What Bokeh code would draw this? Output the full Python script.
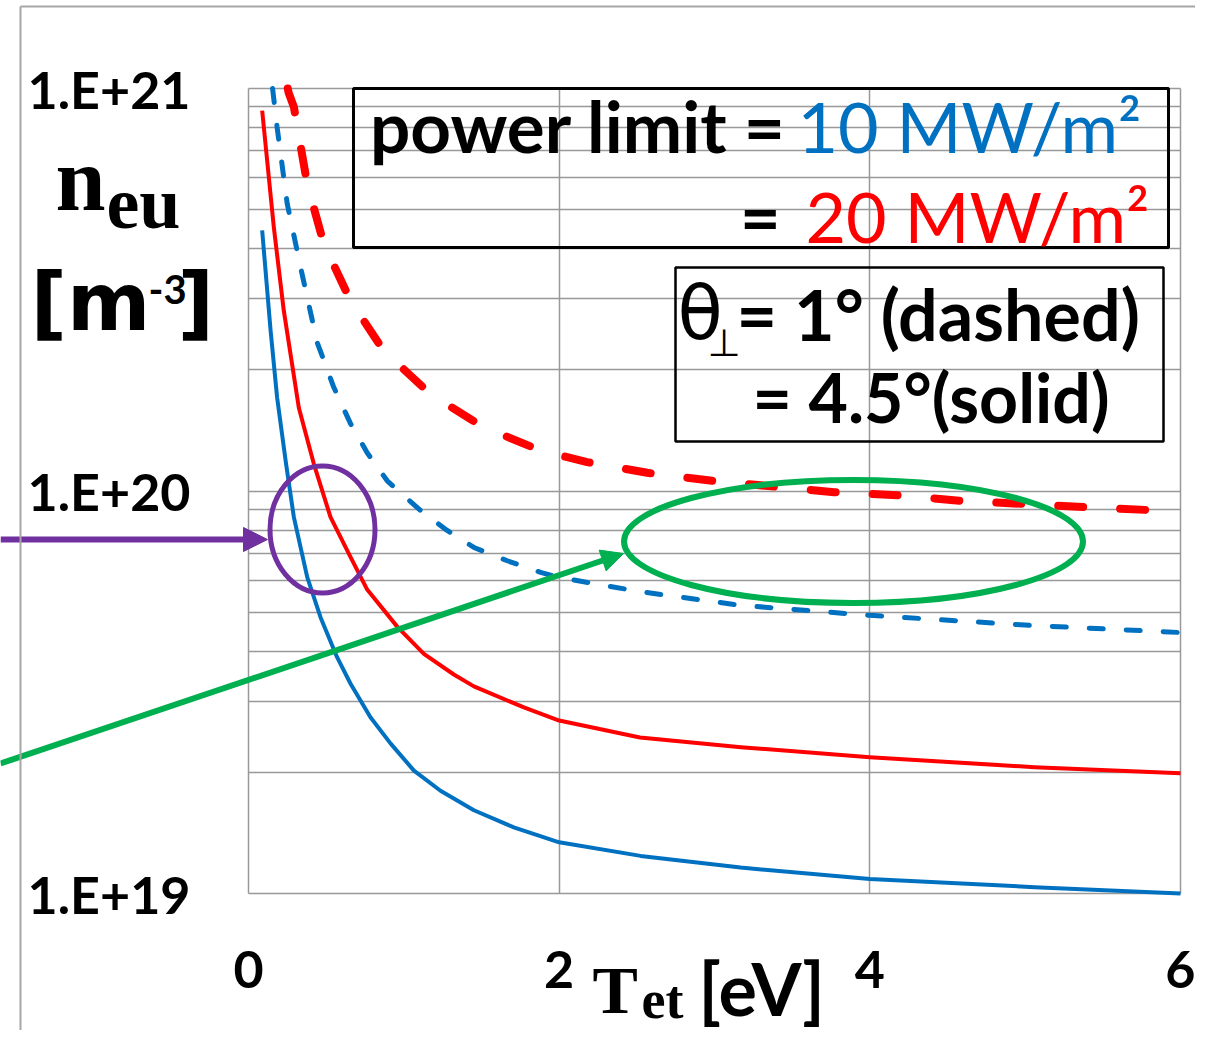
import math
from bokeh.plotting import figure
from bokeh.models import (FixedTicker, Label, BoxAnnotation, Arrow, NormalHead,
                          Range1d, CustomJSTickFormatter, Grid)
from bokeh.embed import file_html
from bokeh.resources import INLINE

# ---------------- data ----------------
# theta = 4.5 deg (solid), power limit 10 MW/m2 (blue)
T_solid_10 = [0.088, 0.142, 0.184, 0.2415, 0.292, 0.378, 0.464, 0.571, 0.657, 0.785, 0.914, 1.065,
              1.236, 1.451, 1.708, 2.0, 2.524, 3.168, 4.0, 5.06, 6.0]
n_solid_10 = [4.44e20, 2.51e20, 1.71e20, 1.17e20, 8.61e19, 6.11e19, 4.85e19, 3.86e19, 3.32e19,
              2.74e19, 2.36e19, 2.02e19, 1.80e19, 1.61e19, 1.46e19, 1.34e19, 1.24e19, 1.16e19,
              1.086e19, 1.037e19, 1.0e19]
# theta = 4.5 deg (solid), power limit 20 MW/m2 (red)
T_solid_20 = [0.088, 0.163, 0.227, 0.324, 0.42, 0.528, 0.657, 0.764, 0.96, 1.129, 1.322, 1.451,
              1.773, 2.0, 2.52, 3.17, 4.0, 5.06, 6.0]
n_solid_20 = [8.81e20, 4.52e20, 2.81e20, 1.61e20, 1.17e20, 8.61e19, 6.85e19, 5.69e19, 4.59e19,
              3.94e19, 3.50e19, 3.27e19, 2.90e19, 2.69e19, 2.44e19, 2.31e19, 2.18e19, 2.06e19,
              1.99e19]
# theta = 1 deg (dashed), power limit 10 MW/m2 (blue)
T_dash_10 = [0.147, 0.155, 0.184, 0.249, 0.335, 0.442, 0.549, 0.657, 0.764, 0.893, 1.107, 1.279,
             1.451, 1.666, 1.88, 2.0, 2.524, 3.168, 4.0, 5.06, 6.0]
n_dash_10 = [1.05e21, 1.0e21, 8.02e20, 5.18e20, 3.60e20, 2.34e20, 1.81e20, 1.47e20, 1.245e20,
             1.06e20, 8.95e19, 7.98e19, 7.24e19, 6.71e19, 6.28e19, 6.10e19, 5.62e19, 5.20e19,
             4.91e19, 4.63e19, 4.45e19]
# theta = 1 deg (dashed), power limit 20 MW/m2 (red)
T_dash_20 = [0.245, 0.258, 0.292, 0.378, 0.485, 0.657, 0.871, 1.172, 1.5, 1.88, 2.18, 2.567, 2.99,
             3.77, 4.2, 4.58, 5.38, 5.79, 6.0]
n_dash_20 = [1.035e21, 9.77e20, 9.0e20, 5.79e20, 4.11e20, 2.97e20, 2.23e20, 1.74e20, 1.45e20,
             1.26e20, 1.18e20, 1.11e20, 1.06e20, 9.93e19, 9.75e19, 9.46e19, 9.12e19, 8.97e19,
             8.91e19]

x_ticks = [0, 2, 4, 6]
y_major = [1e19, 1e20, 1e21]
y_minor = [k * 1e19 for k in range(2, 10)] + [k * 1e20 for k in range(2, 10)]
x_lim = (0, 6)
y_lim = (1e19, 1e21)

BLUE = "#0070C0"
RED = "#FF0000"
PURPLE = "#7030A0"
GREEN = "#00B050"
GRID = "#999999"

W, H = 1195, 1030          # canvas size
PX0, PX1 = 248.0, 1180.0   # pixel columns of T = 0 and T = 6
PY0, PDEC = 88.0, 402.5    # pixel row of 1e21 and pixels per decade


def X(px):
    return x_lim[0] + (px - PX0) / (PX1 - PX0) * (x_lim[1] - x_lim[0])


def Y(py):
    return 10 ** (21.0 - (py - PY0) / PDEC)


# --------------- figure: frame fills the canvas, axes at fixed locations ----------------
p = figure(frame_width=W, frame_height=H, y_axis_type="log",
           x_range=Range1d(X(0), X(W)), y_range=Range1d(Y(H), Y(0)),
           output_backend="svg", toolbar_location=None,
           min_border=0, min_border_left=0, min_border_right=0,
           min_border_top=0, min_border_bottom=0)
p.title.visible = False
p.background_fill_color = "white"
p.border_fill_color = "white"
p.outline_line_color = None

p.xaxis.ticker = FixedTicker(ticks=x_ticks)
p.yaxis.ticker = FixedTicker(ticks=y_major, minor_ticks=y_minor)
p.yaxis.formatter = CustomJSTickFormatter(code="return '1.E+' + Math.round(Math.log10(tick)).toString();")
p.xaxis.fixed_location = y_lim[0]
p.yaxis.fixed_location = x_lim[0]
p.xaxis.bounds = x_lim
p.yaxis.bounds = y_lim
for ax in (p.xaxis, p.yaxis):
    ax.axis_line_color = None
    ax.major_tick_line_color = None
    ax.minor_tick_line_color = None
    ax.major_tick_out = 0
    ax.major_tick_in = 0
    ax.minor_tick_out = 0
    ax.minor_tick_in = 0
    ax.major_label_text_font = "Lato"
    ax.major_label_text_font_style = "bold"
    ax.major_label_text_font_size = "52px"
    ax.major_label_text_color = "black"
p.yaxis.major_label_standoff = 58
p.xaxis.major_label_standoff = 57

has_cross = "cross_bounds" in Grid.properties()
for g in (p.xgrid, p.ygrid):
    g.grid_line_color = GRID if has_cross else None
    g.grid_line_width = 1.5
p.ygrid.minor_grid_line_color = GRID if has_cross else None
p.ygrid.minor_grid_line_width = 1.5
if has_cross:
    p.xgrid.cross_bounds = y_lim
    p.ygrid.cross_bounds = x_lim
else:
    ys = y_major + y_minor
    p.segment(x0=x_ticks, y0=[y_lim[0]] * len(x_ticks), x1=x_ticks, y1=[y_lim[1]] * len(x_ticks),
              line_color=GRID, line_width=1.5)
    p.segment(x0=[x_lim[0]] * len(ys), y0=ys, x1=[x_lim[1]] * len(ys), y1=ys,
              line_color=GRID, line_width=1.5)


# dashed curves start above 1e21: cut them at the top of the plot area
def cut_top(T, n):
    tt, nn = [], []
    for i in range(len(T)):
        if n[i] <= y_lim[1]:
            if i > 0 and n[i - 1] > y_lim[1] and not tt:
                l0, l1 = math.log10(n[i - 1]), math.log10(n[i])
                f = (l0 - math.log10(y_lim[1])) / (l0 - l1)
                tt.append(T[i - 1] + f * (T[i] - T[i - 1]))
                nn.append(y_lim[1])
            tt.append(T[i])
            nn.append(n[i])
    return tt, nn


p.line(T_solid_10, n_solid_10, line_color=BLUE, line_width=4, line_join="round")
p.line(T_solid_20, n_solid_20, line_color=RED, line_width=4, line_join="round")
td10, nd10 = cut_top(T_dash_10, n_dash_10)
td20, nd20 = cut_top(T_dash_20, n_dash_20)
p.line(td10, nd10, line_color=BLUE, line_width=5, line_dash="14 23", line_cap="round")
p.line(td20, nd20, line_color=RED, line_width=8, line_dash="25 37", line_cap="round")

K = 0.35  # baseline correction factor observed for Label rendering


def lab(text, px, py, size, color="black", font="Lato", style="bold", align="left"):
    p.add_layout(Label(x=X(px), y=Y(py - K * size), text=text, text_font=font,
                       text_font_style=style, text_font_size=f"{size}px", text_color=color,
                       text_align=align, text_baseline="alphabetic"))


# ellipses
p.ellipse(x=[X(322)], y=[Y(529)], width=105, height=127, width_units="screen",
          height_units="screen", fill_color=None, line_color=PURPLE, line_width=5)
p.ellipse(x=[X(853)], y=[Y(541)], width=459, height=123, width_units="screen",
          height_units="screen", fill_color=None, line_color=GREEN, line_width=6)

# text boxes
p.add_layout(BoxAnnotation(left=X(353), right=X(1168), top=Y(88), bottom=Y(247),
                           fill_alpha=0, line_color="black", line_width=3, line_alpha=1))
p.add_layout(BoxAnnotation(left=X(675), right=X(1163), top=Y(267), bottom=Y(441),
                           fill_alpha=0, line_color="black", line_width=2.5, line_alpha=1))

lab("power limit =", 786, 150, 71, align="right")
lab("10 MW/m\u00b2", 797, 150, 70, color=BLUE, style="normal")
lab("=", 780, 240, 70, align="right")
lab("20 MW/m\u00b2", 805, 240, 70, color=RED, style="normal")

lab("\u03b8", 677, 338, 74, font="DejaVu Sans", style="normal")
lab("\u22a5", 707, 356, 38, font="DejaVu Sans", style="normal")
lab("= 1\u00b0 (dashed)", 736, 338, 70)
lab("= 4.5\u00b0(solid)", 752, 420, 68)

# axis titles
lab("n", 55, 210, 90, font="Liberation Serif")
lab("eu", 106, 228, 74, font="Liberation Serif")
lab("[m", 30, 330, 80, font="DejaVu Sans")
lab("-3", 148, 303, 40)
lab("]", 177, 330, 80, font="DejaVu Sans")

lab("T", 592, 1013, 68, font="Liberation Serif")
lab("et", 641, 1018, 54, font="Liberation Serif")
lab("[eV]", 698, 1013, 72)

# arrows
p.add_layout(Arrow(end=NormalHead(size=24, fill_color=PURPLE, line_color=PURPLE),
                   x_start=X(0), y_start=Y(539), x_end=X(267), y_end=Y(539),
                   line_color=PURPLE, line_width=6))
p.add_layout(Arrow(end=NormalHead(size=22, fill_color=GREEN, line_color=GREEN),
                   x_start=X(0), y_start=Y(763), x_end=X(623), y_end=Y(553),
                   line_color=GREEN, line_width=6))

# slide frame lines
p.add_layout(Arrow(end=None, x_start=X(20), y_start=Y(6), x_end=X(20), y_end=Y(1060),
                   line_color="#A6A6A6", line_width=2))
p.add_layout(Arrow(end=None, x_start=X(20), y_start=Y(6), x_end=X(1220), y_end=Y(6),
                   line_color="#A6A6A6", line_width=2))

open("out.html", "w").write(file_html(p, INLINE))
